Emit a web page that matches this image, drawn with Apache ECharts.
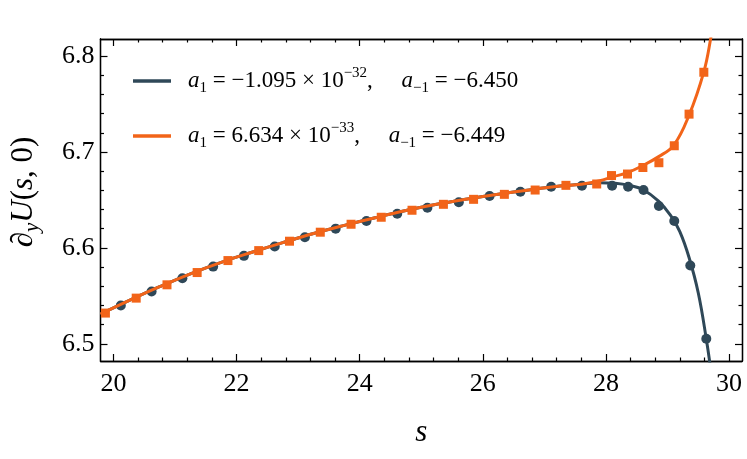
<!DOCTYPE html>
<html>
<head>
<meta charset="utf-8">
<script src="https://cdn.jsdelivr.net/npm/echarts@6/dist/echarts.min.js"></script>
<style>
  html, body { margin: 0; padding: 0; background: #ffffff; }
  #chart { width: 747px; height: 459px; }
</style>
</head>
<body>
<div id="chart"></div>
<script>
// ---------- data ----------
const seriesNames = ['a1 = -1.095e-32, a-1 = -6.450', 'a1 = 6.634e-33, a-1 = -6.449'];

// fitted curves (shared part, then the two diverging tails)
const commonCurveX = [19.79, 20.25, 20.75, 21.25, 21.75, 22.25, 22.75, 23.25, 23.75, 24.25, 24.75, 25.25, 25.75, 26.25, 26.75, 27.25, 27.6];
const commonCurveY = [6.531, 6.545, 6.5595, 6.573, 6.585, 6.5955, 6.6055, 6.615, 6.6235, 6.6315, 6.639, 6.6455, 6.651, 6.656, 6.6605, 6.6645, 6.6665];
const darkTailX = [27.9, 28.15, 28.4, 28.6, 28.85, 29.05, 29.2, 29.35, 29.5, 29.63, 29.72];
const darkTailY = [6.668, 6.6675, 6.665, 6.661, 6.649, 6.634, 6.617, 6.590, 6.553, 6.505, 6.465];
const orangeTailX = [27.9, 28.1, 28.35, 28.6, 28.85, 29.1, 29.35, 29.59, 29.7, 29.75];
const orangeTailY = [6.670, 6.674, 6.6785, 6.686, 6.695, 6.707, 6.7385, 6.7837, 6.818, 6.84];

// sampled points
const circleX = [20.12, 20.62, 21.12, 21.62, 22.12, 22.62, 23.11, 23.61, 24.11, 24.61, 25.10, 25.61, 26.11, 26.61, 27.11, 27.61, 28.10, 28.36, 28.61, 28.86, 29.11, 29.37, 29.63];
const circleY = [6.5399, 6.5545, 6.5684, 6.5805, 6.5917, 6.6014, 6.6111, 6.6201, 6.6281, 6.6357, 6.6420, 6.6476, 6.6542, 6.6586, 6.6639, 6.6649, 6.6649, 6.6639, 6.6604, 6.6438, 6.6281, 6.5816, 6.5052];
const squareX = [19.87, 20.37, 20.87, 21.36, 21.86, 22.36, 22.86, 23.36, 23.86, 24.35, 24.85, 25.36, 25.85, 26.35, 26.85, 27.35, 27.85, 28.09, 28.35, 28.60, 28.86, 29.11, 29.35, 29.59];
const squareY = [6.5320, 6.5476, 6.5615, 6.5743, 6.5868, 6.5972, 6.6070, 6.6164, 6.6247, 6.6320, 6.6393, 6.6455, 6.6507, 6.6559, 6.6604, 6.6653, 6.6667, 6.6755, 6.6771, 6.6839, 6.6889, 6.7066, 6.7396, 6.7833];

// axes
const xRange = [19.79, 30.21];
const yRange = [6.482, 6.818];
const xMajorTicks = [20, 22, 24, 26, 28, 30];
const xMinorTicks = [20.4, 20.8, 21.2, 21.6, 22.4, 22.8, 23.2, 23.6, 24.4, 24.8, 25.2, 25.6, 26.4, 26.8, 27.2, 27.6, 28.4, 28.8, 29.2, 29.6];
const yMajorTicks = [6.5, 6.6, 6.7, 6.8];
const yMinorTicks = [6.52, 6.54, 6.56, 6.58, 6.62, 6.64, 6.66, 6.68, 6.72, 6.74, 6.76, 6.78];

// ---------- build ----------
const zip = (xs, ys) => xs.map((x, i) => [x, ys[i]]);
const darkCurve = zip(commonCurveX.concat(darkTailX), commonCurveY.concat(darkTailY));
const orangeCurve = zip(commonCurveX.concat(orangeTailX), commonCurveY.concat(orangeTailY));

const DARK = '#2F4858';
const ORANGE = '#F26419';
const SERIF = '"Liberation Serif", "DejaVu Serif", serif';
const AXLINE = { color: '#000', width: 1.3 };

function xAxisDef(pos, ticks, len, labels) {
  return {
    type: 'value', min: xRange[0], max: xRange[1], position: pos, gridIndex: 0,
    axisLine: { show: true, onZero: false, lineStyle: AXLINE },
    axisTick: { show: true, inside: true, length: len, customValues: ticks, lineStyle: { color: '#000', width: 1.2 } },
    axisLabel: labels ? { show: true, customValues: ticks, margin: 10, color: '#000', fontFamily: SERIF, fontSize: 26 } : { show: false },
    splitLine: { show: false }
  };
}
function yAxisDef(pos, ticks, len, labels) {
  return {
    type: 'value', min: yRange[0], max: yRange[1], position: pos, gridIndex: 0,
    axisLine: { show: true, onZero: false, lineStyle: AXLINE },
    axisTick: { show: true, inside: true, length: len, customValues: ticks, lineStyle: { color: '#000', width: 1.2 } },
    axisLabel: labels ? { show: true, customValues: ticks, margin: 6, color: '#000', fontFamily: SERIF, fontSize: 26,
      formatter: v => v.toFixed(1) } : { show: false },
    splitLine: { show: false }
  };
}

const xMain = xAxisDef('bottom', xMajorTicks, 7, true);
xMain.name = 's';
xMain.nameLocation = 'middle';
xMain.nameGap = 56;
xMain.nameTextStyle = { fontFamily: SERIF, fontStyle: 'italic', fontSize: 31, color: '#000' };

const yMain = yAxisDef('left', yMajorTicks, 7, true);
yMain.name = '{d|∂}{sub|y}{i|U}{t|(}{i|s}{t|, 0)}';
yMain.nameLocation = 'middle';
yMain.nameGap = 58;
yMain.nameTextStyle = {
  color: '#000', padding: [0, 0, 0, 16],
  rich: {
    d: { fontFamily: SERIF, fontSize: 31, color: '#000', lineHeight: 38 },
    i: { fontFamily: SERIF, fontStyle: 'italic', fontSize: 31, color: '#000', lineHeight: 38 },
    t: { fontFamily: SERIF, fontSize: 31, color: '#000', lineHeight: 38 },
    sub: { fontFamily: SERIF, fontStyle: 'italic', fontSize: 21, color: '#000', lineHeight: 24, verticalAlign: 'bottom' }
  }
};

const legendRich = {
  t: { fontFamily: SERIF, fontSize: 23, color: '#000', lineHeight: 30 },
  i: { fontFamily: SERIF, fontStyle: 'italic', fontSize: 23, color: '#000', lineHeight: 30 },
  sub: { fontFamily: SERIF, fontSize: 15, color: '#000', lineHeight: 20, verticalAlign: 'bottom' },
  sup: { fontFamily: SERIF, fontSize: 15, color: '#000', lineHeight: 20, verticalAlign: 'top' }
};
const legendText = {};
legendText[seriesNames[0]] = '{i|a}{sub|1}{t| = −1.095 × 10}{sup|−32}{t|,\u2003 }{i|a}{sub|−1}{t| = −6.450}';
legendText[seriesNames[1]] = '{i|a}{sub|1}{t| = 6.634 × 10}{sup|−33}{t|,\u2003 }{i|a}{sub|−1}{t| = −6.449}';

function legendDef(name, top) {
  return {
    data: [name], left: 133, top: top, orient: 'vertical', padding: 0,
    icon: 'rect', itemWidth: 38, itemHeight: 3.5,
    formatter: n => legendText[n],
    textStyle: { rich: legendRich, padding: [0, 0, 0, 12] },
    selectedMode: false
  };
}

const option = {
  backgroundColor: '#ffffff',
  animation: false,
  grid: { left: 97, right: 5, top: 39, bottom: 98, containLabel: false },
  xAxis: [
    xMain,
    xAxisDef('bottom', xMinorTicks, 3.5, false),
    xAxisDef('top', xMajorTicks, 7, false),
    xAxisDef('top', xMinorTicks, 3.5, false)
  ],
  yAxis: [
    yMain,
    yAxisDef('left', yMinorTicks, 3.5, false),
    yAxisDef('right', yMajorTicks, 7, false),
    yAxisDef('right', yMinorTicks, 3.5, false)
  ],
  legend: [legendDef(seriesNames[0], 66), legendDef(seriesNames[1], 121)],
  series: [
    { name: seriesNames[0], type: 'line', data: darkCurve, smooth: 0.4, showSymbol: false, clip: true,
      lineStyle: { color: DARK, width: 3 }, itemStyle: { color: DARK }, z: 2 },
    { name: 'circles', type: 'scatter', data: zip(circleX, circleY), symbol: 'circle', symbolSize: 10,
      itemStyle: { color: DARK, opacity: 1 }, z: 3 },
    { name: seriesNames[1], type: 'line', data: orangeCurve, smooth: 0.4, showSymbol: false, clip: true,
      lineStyle: { color: ORANGE, width: 3 }, itemStyle: { color: ORANGE }, z: 4 },
    { name: 'squares', type: 'scatter', data: zip(squareX, squareY), symbol: 'rect', symbolSize: 9,
      itemStyle: { color: ORANGE, opacity: 1 }, z: 5 }
  ]
};

const chart = echarts.init(document.getElementById('chart'), null, { renderer: 'canvas' });
chart.setOption(option);
</script>
</body>
</html>
